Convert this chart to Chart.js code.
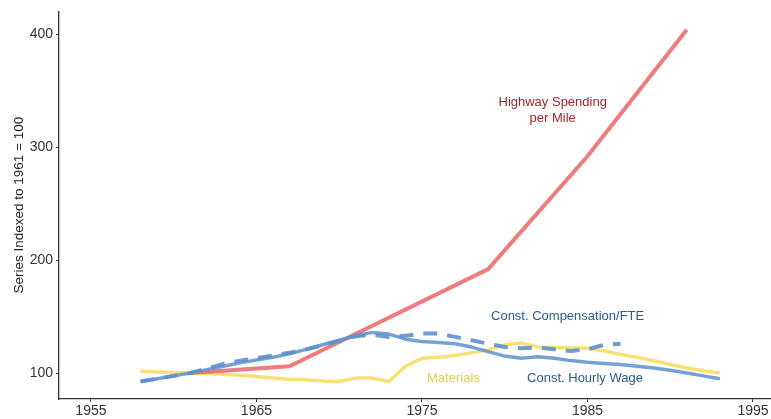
<!DOCTYPE html>
<html>
<head>
<meta charset="utf-8">
<script src="https://cdn.jsdelivr.net/npm/chart.js@4"></script>
<style>
  html, body { margin: 0; padding: 0; background: #fff; }
  #wrap { width: 771px; height: 419px; }
</style>
</head>
<body>
<div id="wrap"><canvas id="graph1"></canvas></div>
<script>
// yearly series, 1958-1993
const years = [1958, 1959, 1960, 1961, 1962, 1963, 1964, 1965, 1966, 1967,
               1968, 1969, 1970, 1971, 1972, 1973, 1974, 1975, 1976, 1977,
               1978, 1979, 1980, 1981, 1982, 1983, 1984, 1985, 1986, 1987,
               1988, 1989, 1990, 1991, 1992, 1993];

const hourlyWage = [92.5, 95, 97.5, 100, 103, 106, 109, 111.5, 114, 117,
                    121, 125, 129, 133, 136, 134.5, 130, 128, 127, 126,
                    123, 119, 115, 113, 114.5, 113, 111, 109.5, 108.5, 107.5,
                    106, 104.5, 102.5, 100, 97.5, 95];

const compFTE = [92.5, 95, 97.5, 100, 104, 108, 111, 113, 115.5, 118,
                 121, 124.5, 128.5, 132.5, 134, 132, 133, 135, 135, 132,
                 129, 126, 123, 122, 122.5, 121, 119.5, 121, 125, 126,
                 null, null, null, null, null, null];

const materials = [101.5, 101, 100.5, 100, 99.5, 99, 98, 97, 95.5, 94.5,
                   94, 93, 92.5, 95.5, 95.5, 92.5, 106, 113, 114, 115.5,
                   118, 120.5, 125, 126.5, 123, 122.5, 122.5, 122, 119.5, 116.5,
                   114, 111, 107.5, 104.5, 102, 100];

const highwayYears = [1961, 1967, 1979, 1985, 1991];
const highway = [100, 106, 192, 292, 404];

const xTicks = [1955, 1965, 1975, 1985, 1995];
const yTicks = [100, 200, 300, 400];

// text labels placed in data units
const notes = [
  { lines: ['Highway Spending', 'per Mile'], x: 1982.9, y: 333, color: '#a3272a' },
  { lines: ['Const. Compensation/FTE'], x: 1983.8, y: 150.5, color: '#2b5c8a' },
  { lines: ['Materials'], x: 1976.9, y: 95.4, color: '#e3cf4f' },
  { lines: ['Const. Hourly Wage'], x: 1984.85, y: 95.4, color: '#2b5c8a' }
];

const toPoints = (xs, ys) => xs.map((x, i) => ({ x: x, y: ys[i] }));

const notesPlugin = {
  id: 'notes',
  afterDatasetsDraw(chart) {
    const ctx = chart.ctx;
    const sx = chart.scales.x, sy = chart.scales.y;
    ctx.save();
    ctx.font = '13px "Liberation Sans", Arial, sans-serif';
    ctx.textAlign = 'center';
    ctx.textBaseline = 'middle';
    notes.forEach(n => {
      const px = sx.getPixelForValue(n.x);
      const py = sy.getPixelForValue(n.y);
      const lh = 16;
      const top = py - (n.lines.length - 1) * lh / 2;
      ctx.fillStyle = n.color;
      n.lines.forEach((t, i) => ctx.fillText(t, px, top + i * lh));
    });
    ctx.restore();
  }
};

const initChart = () => {
  const ctx = document.getElementById('graph1').getContext('2d');
  Chart.defaults.font.family = '"Liberation Sans", Arial, sans-serif';

  const data = {
    datasets: [
      {
        label: 'Const. Compensation/FTE',
        data: toPoints(years, compFTE),
        borderColor: 'rgba(95,145,205,0.9)',
        borderWidth: 4,
        borderDash: [14, 10],
        borderCapStyle: 'butt'
      },
      {
        label: 'Const. Hourly Wage',
        data: toPoints(years, hourlyWage),
        borderColor: 'rgba(95,145,205,0.85)',
        borderWidth: 3.5
      },
      {
        label: 'Highway Spending per Mile',
        data: toPoints(highwayYears, highway),
        borderColor: 'rgba(236,110,110,0.9)',
        borderWidth: 4
      },
      {
        label: 'Materials',
        data: toPoints(years, materials),
        borderColor: 'rgba(246,222,100,0.9)',
        borderWidth: 3.5
      }
    ]
  };

  const axisColor = '#333333';

  const options = {
    responsive: true,
    maintainAspectRatio: false,
    animation: false,
    layout: { padding: { top: 5, right: 0, left: 0, bottom: 0 } },
    elements: {
      point: { radius: 0 },
      line: { tension: 0, fill: false, borderCapStyle: 'butt', borderJoinStyle: 'round' }
    },
    plugins: {
      legend: { display: false },
      tooltip: { enabled: false }
    },
    scales: {
      x: {
        type: 'linear',
        min: 1953.07,
        max: 1996.09,
        afterBuildTicks: s => { s.ticks = xTicks.map(v => ({ value: v })); },
        afterFit: s => { s.height = 20; },
        grid: { display: true, drawOnChartArea: false, drawTicks: true, tickLength: 3, color: axisColor, lineWidth: 1 },
        border: { display: true, color: axisColor, width: 1.3 },
        ticks: { color: '#333', font: { size: 14 }, padding: 1, maxRotation: 0, callback: v => String(v) }
      },
      y: {
        min: 77,
        max: 420.3,
        afterBuildTicks: s => { s.ticks = yTicks.map(v => ({ value: v })); },
        afterFit: s => { s.width = 59; },
        grid: { display: true, drawOnChartArea: false, drawTicks: true, tickLength: 3, color: axisColor, lineWidth: 1 },
        border: { display: true, color: axisColor, width: 1.3 },
        ticks: { color: '#333', font: { size: 14 }, padding: 3 },
        title: {
          display: true,
          text: 'Series Indexed to 1961 = 100',
          color: '#222',
          font: { size: 13.5 },
          padding: { top: 11, bottom: 0 }
        }
      }
    }
  };

  const config = {
    type: 'line',
    data: data,
    options: options,
    plugins: [notesPlugin]
  };
  const chart = new Chart(ctx, config);
};

initChart();
</script>
</body>
</html>
